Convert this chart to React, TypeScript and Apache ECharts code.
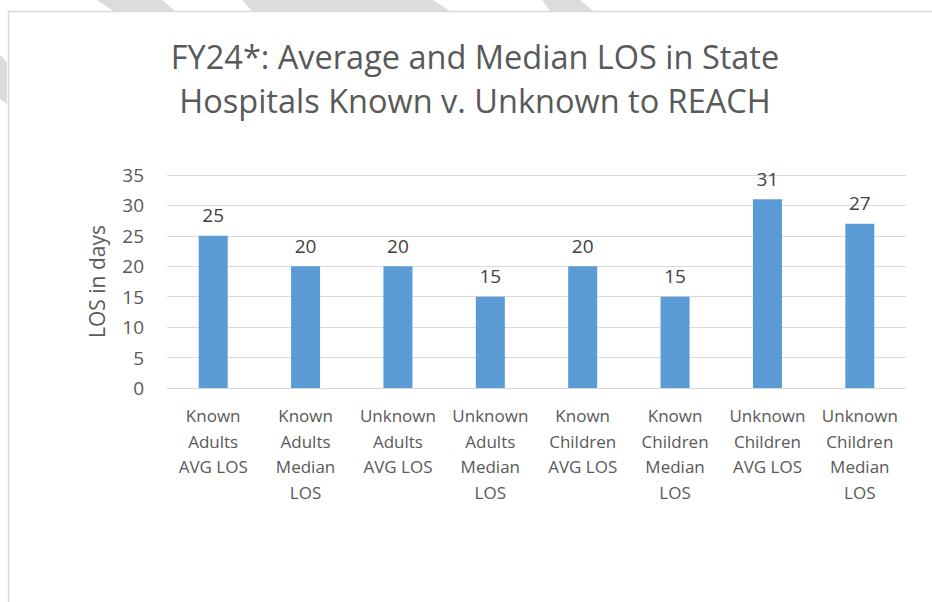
import React, { useEffect, useRef } from "react";
import * as echarts from "echarts";

const titleLines = ["FY24*: Average and Median LOS in State", "Hospitals Known v. Unknown to REACH"];
const categories = [
  "Known\nAdults\nAVG LOS",
  "Known\nAdults\nMedian\nLOS",
  "Unknown\nAdults\nAVG LOS",
  "Unknown\nAdults\nMedian\nLOS",
  "Known\nChildren\nAVG LOS",
  "Known\nChildren\nMedian\nLOS",
  "Unknown\nChildren\nAVG LOS",
  "Unknown\nChildren\nMedian\nLOS",
];
const losValues = [25, 20, 20, 15, 20, 15, 31, 27];
const yAxisName = "LOS in days";

const FONT = "'Open Sans', 'Noto Sans', sans-serif";
const STRIPE = "#dcdcdc";

export default function App() {
  const ref = useRef<HTMLDivElement>(null);
  useEffect(() => {
    if (!ref.current) return;
    const chart = echarts.init(ref.current, null, { renderer: "svg" });
    chart.setOption({
      animation: false,
      backgroundColor: "#ffffff",
      textStyle: { fontFamily: FONT },
      graphic: [
        { type: "polygon", silent: true, z: -10, shape: { points: [[97, 0], [162, 0], [175, 11], [113, 11]] }, style: { fill: STRIPE } },
        { type: "polygon", silent: true, z: -10, shape: { points: [[242, 0], [433, 0], [450, 11], [252, 11]] }, style: { fill: STRIPE } },
        { type: "polygon", silent: true, z: -10, shape: { points: [[542, 0], [580, 0], [593, 11], [550, 11]] }, style: { fill: STRIPE } },
        { type: "polygon", silent: true, z: -10, shape: { points: [[0, 55], [7, 62], [7, 104], [0, 99]] }, style: { fill: STRIPE } },
        { type: "line", silent: true, z: -5, shape: { x1: 8, y1: 11.5, x2: 940, y2: 11.5 }, style: { stroke: "#d9d9d9", lineWidth: 1.5 } },
        { type: "line", silent: true, z: -5, shape: { x1: 8.5, y1: 11, x2: 8.5, y2: 610 }, style: { stroke: "#d9d9d9", lineWidth: 1.5 } },
      ],
      title: {
        text: titleLines.join("\n"),
        left: 470,
        top: 29,
        textAlign: "center",
        textStyle: {
          fontFamily: FONT,
          fontSize: 32.5,
          fontWeight: "normal",
          color: "#595959",
          lineHeight: 44,
        },
      },
      grid: { left: 167, right: 26, top: 175, bottom: 214 },
      xAxis: {
        type: "category",
        data: categories,
        axisLine: { show: true, lineStyle: { color: "#d9d9d9", width: 1 } },
        axisTick: { show: false },
        axisLabel: {
          interval: 0,
          color: "#595959",
          fontFamily: FONT,
          fontSize: 17,
          lineHeight: 25.5,
          margin: 15,
        },
      },
      yAxis: {
        type: "value",
        min: 0,
        max: 35,
        interval: 5,
        name: yAxisName,
        nameLocation: "middle",
        nameGap: 60,
        nameTextStyle: { color: "#595959", fontFamily: FONT, fontSize: 21 },
        axisLine: { show: false },
        axisTick: { show: false },
        axisLabel: { color: "#595959", fontFamily: FONT, fontSize: 19, margin: 23 },
        splitLine: { lineStyle: { color: "#d9d9d9", width: 1 } },
      },
      series: [
        {
          type: "bar",
          data: losValues,
          barWidth: 29,
          itemStyle: { color: "#5b9bd5" },
          label: {
            show: true,
            position: "top",
            distance: 11,
            color: "#404040",
            fontFamily: FONT,
            fontSize: 19,
          },
        },
      ],
    });
    return () => chart.dispose();
  }, []);
  return (
    <div
      ref={ref}
      style={{ position: "absolute", left: 0, top: 0, width: 932, height: 602 }}
    />
  );
}
